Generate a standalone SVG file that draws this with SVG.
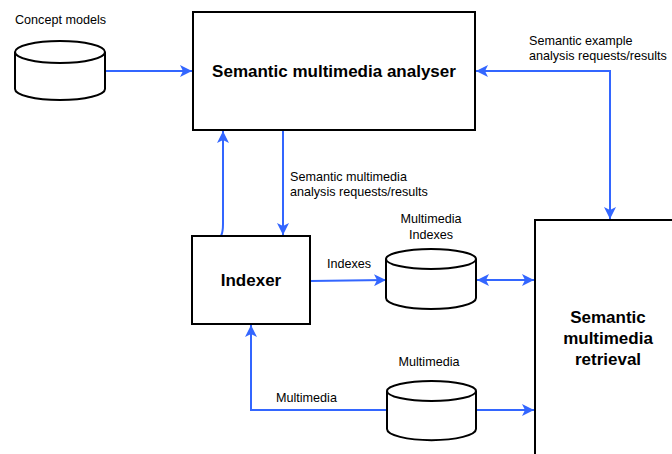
<svg xmlns="http://www.w3.org/2000/svg" width="672" height="454" viewBox="0 0 672 454">
<defs>
<marker id="ah" viewBox="0 0 12 12" refX="12" refY="6" markerWidth="12" markerHeight="12" markerUnits="userSpaceOnUse" orient="auto-start-reverse">
<path d="M0,0 L12,6 L0,12 L3,6 Z" fill="#3366ff"/>
</marker>
<style>
.box{fill:#fff;stroke:#000;stroke-width:2}
.cyl{fill:#fff;stroke:#000;stroke-width:2}
.t{font-family:"Liberation Sans",Arial,sans-serif;font-size:12.6px;fill:#000}
.b{font-family:"Liberation Sans",Arial,sans-serif;font-size:17px;font-weight:bold;fill:#000;text-anchor:middle}
.c{fill:none;stroke:#3366ff;stroke-width:2}
</style>
</defs>
<rect width="672" height="454" fill="#fff"/>
<g id="connectors">
<path class="c" d="M105,71 L192,71" marker-end="url(#ah)"/>
<path class="c" d="M283,130 L283,235" marker-end="url(#ah)"/>
<path class="c" d="M221,236 Q223,232 223,224 L223,131" marker-end="url(#ah)"/>
<path class="c" d="M476,71 L610,71 L610,219" marker-start="url(#ah)" marker-end="url(#ah)"/>
<path class="c" d="M310,281 L386,280" marker-end="url(#ah)"/>
<path class="c" d="M477,280 L534,280" marker-start="url(#ah)" marker-end="url(#ah)"/>
<path class="c" d="M387,410 L251,410 L251,325" marker-end="url(#ah)"/>
<path class="c" d="M476,410 L534,410" marker-end="url(#ah)"/>
<text class="t" x="290" y="181">Semantic multimedia</text>
<text class="t" x="290" y="196">analysis requests/results</text>
<text class="t" x="529" y="45">Semantic example</text>
<text class="t" x="529" y="60">analysis requests/results</text>
<text class="t" x="327" y="268">Indexes</text>
<text class="t" x="276" y="402">Multimedia</text>
</g>
<g id="concept-models">
<path class="cyl" d="M15,52 L15,89 A45,11 0 0 0 105,89 L105,52"/>
<ellipse class="cyl" cx="60" cy="52" rx="45" ry="11"/>
<text class="t" x="15" y="24">Concept models</text>
</g>
<g id="analyser">
<rect class="box" x="193" y="12" width="282" height="118"/>
<text class="b" x="334" y="77">Semantic multimedia analyser</text>
</g>
<g id="indexer">
<rect class="box" x="192" y="236" width="118" height="88"/>
<text class="b" x="251" y="286">Indexer</text>
</g>
<g id="multimedia-indexes">
<path class="cyl" d="M386,259 L386,298 A45,11 0 0 0 476,298 L476,259"/>
<ellipse class="cyl" cx="431" cy="259" rx="45" ry="10"/>
<text class="t" x="431" y="223" text-anchor="middle">Multimedia</text>
<text class="t" x="431" y="239" text-anchor="middle">Indexes</text>
</g>
<g id="multimedia">
<path class="cyl" d="M387,391 L387,429 A44,11 0 0 0 476,429 L476,391"/>
<ellipse class="cyl" cx="431.5" cy="391" rx="44.5" ry="10"/>
<text class="t" x="429" y="366" text-anchor="middle">Multimedia</text>
</g>
<g id="retrieval">
<rect class="box" x="535" y="220" width="150" height="250"/>
<text class="b" x="608" y="323">Semantic</text>
<text class="b" x="608" y="344">multimedia</text>
<text class="b" x="608" y="365">retrieval</text>
</g>
</svg>
